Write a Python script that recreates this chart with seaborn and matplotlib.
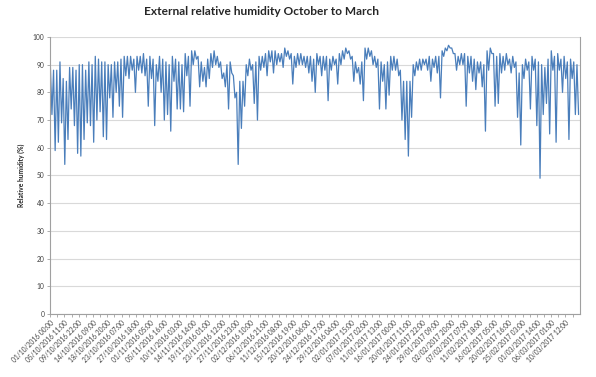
import numpy as np
import pandas as pd
import matplotlib
matplotlib.use('Agg')
import matplotlib.pyplot as plt
import seaborn as sns

# 相対湿度（外気）: 1日あたり夜間の高い値と日中の低い値
day_max = [
    90, 88, 88, 91, 85, 84, 89, 89, 88, 90,
    90, 88, 91, 90, 93, 92, 91, 91, 90, 90,
    91, 91, 92, 93, 93, 93, 92, 93, 93, 94,
    92, 93, 92, 90, 93, 92, 91, 90, 93, 92,
    91, 90, 94, 93, 95, 95, 93, 91, 89, 92,
    94, 95, 93, 91, 87, 90, 91, 86, 80, 84,
    84, 90, 92, 90, 91, 93, 93, 94, 95, 95,
    95, 94, 94, 96, 95, 94, 93, 94, 94, 93,
    93, 93, 92, 94, 93, 93, 93, 92, 93, 92,
    94, 95, 96, 95, 93, 91, 89, 91, 96, 96,
    95, 93, 92, 91, 90, 91, 93, 93, 92, 88,
    84, 84, 84, 90, 91, 92, 92, 92, 93, 92,
    93, 93, 95, 96, 97, 96, 94, 93, 94, 94,
    93, 93, 92, 91, 91, 90, 95, 96, 94, 93,
    94, 93, 94, 92, 93, 91, 87, 90, 92, 91,
    93, 92, 91, 90, 89, 92, 95, 93, 94, 92,
    93, 91, 92, 91, 90,
]
day_min = [
    72, 59, 62, 69, 54, 63, 74, 68, 58, 57,
    63, 69, 68, 62, 70, 73, 64, 63, 78, 71,
    80, 75, 71, 86, 85, 88, 80, 88, 87, 86,
    75, 85, 68, 84, 80, 70, 72, 66, 84, 74,
    74, 73, 86, 75, 90, 92, 82, 84, 82, 85,
    89, 90, 89, 85, 82, 74, 87, 78, 54, 67,
    75, 86, 88, 76, 70, 88, 89, 86, 91, 87,
    90, 91, 89, 93, 92, 83, 89, 90, 90, 89,
    87, 84, 80, 90, 86, 88, 77, 88, 90, 83,
    90, 92, 94, 92, 84, 87, 83, 77, 92, 93,
    90, 89, 74, 84, 74, 79, 88, 88, 86, 70,
    63, 57, 71, 86, 88, 88, 90, 88, 84, 89,
    87, 78, 93, 95, 96, 94, 88, 90, 90, 75,
    87, 84, 81, 87, 82, 66, 88, 94, 75, 76,
    87, 88, 90, 87, 89, 71, 61, 85, 88, 74,
    88, 68, 49, 72, 76, 65, 88, 62, 88, 80,
    85, 63, 85, 72, 72,
]

tick_labels = [
    '01/10/2016 00:00', '05/10/2016 11:00', '09/10/2016 22:00', '14/10/2016 09:00',
    '18/10/2016 20:00', '23/10/2016 07:00', '27/10/2016 18:00', '01/11/2016 05:00',
    '05/11/2016 16:00', '10/11/2016 03:00', '14/11/2016 14:00', '19/11/2016 01:00',
    '23/11/2016 12:00', '27/11/2016 23:00', '02/12/2016 10:00', '06/12/2016 21:00',
    '11/12/2016 08:00', '15/12/2016 19:00', '20/12/2016 06:00', '24/12/2016 17:00',
    '29/12/2016 04:00', '02/01/2017 15:00', '07/01/2017 02:00', '11/01/2017 13:00',
    '16/01/2017 00:00', '20/01/2017 11:00', '24/01/2017 22:00', '29/01/2017 09:00',
    '02/02/2017 20:00', '07/02/2017 07:00', '11/02/2017 18:00', '16/02/2017 05:00',
    '20/02/2017 16:00', '25/02/2017 03:00', '01/03/2017 14:00', '06/03/2017 01:00',
    '10/03/2017 12:00',
]

start = pd.Timestamp('2016-10-01 00:00')
end = pd.Timestamp('2017-03-15 00:00')

# 高い値（深夜）と低い値（午後）を交互に並べる
rh = np.column_stack([day_max, day_min]).ravel()
times = pd.date_range('2016-10-01 02:00', periods=len(rh), freq='12h')
df = pd.DataFrame({'hours': (times - start) / pd.Timedelta('1h'), 'rh': rh})

tick_pos = (pd.to_datetime(tick_labels, format='%d/%m/%Y %H:%M') - start) / pd.Timedelta('1h')
tick_pos = np.asarray(tick_pos)
step = tick_pos[1] - tick_pos[0]
minor_pos = tick_pos + step / 2

sns.set_style('white')
plt.rcParams['font.family'] = ['Lato', 'DejaVu Sans']

fig = plt.figure(figsize=(5.96, 3.77), dpi=100)
ax = fig.add_axes([0.084, 0.167, 0.889, 0.735])

sns.lineplot(data=df, x='hours', y='rh', ax=ax, color='#4a7ebb', linewidth=0.9)

ax.set_xlim(0, (end - start) / pd.Timedelta('1h'))
ax.set_ylim(0, 100)
ax.set_yticks(range(0, 101, 10))
ax.yaxis.grid(True, color='#d9d9d9', linewidth=0.8)
ax.xaxis.grid(False)
ax.set_axisbelow(True)

ax.set_xticks(tick_pos)
ax.set_xticks(minor_pos, minor=True)
ax.set_xticklabels(tick_labels, rotation=45, ha='right', rotation_mode='anchor',
                   fontsize=4.8, color='#404040')
ax.tick_params(axis='x', which='both', direction='out', length=2.5, width=0.6,
               color='#a0a0a0', bottom=True, pad=1.5)
ax.tick_params(axis='y', labelsize=4.8, labelcolor='#404040', length=2.5, width=0.6,
               color='#a0a0a0', left=True, pad=1.5)

for side in ['left', 'bottom', 'right']:
    ax.spines[side].set_color('#a0a0a0')
    ax.spines[side].set_linewidth(0.8)
ax.spines['top'].set_visible(False)

ax.set_xlabel('')
ax.set_ylabel('Relative humidity (%)', fontsize=4.9, fontweight='bold', labelpad=6)
fig.suptitle('External relative humidity October to March', fontsize=8.6, fontweight='bold',
             x=0.438, y=0.985)

fig.savefig('out.png', dpi=100)
